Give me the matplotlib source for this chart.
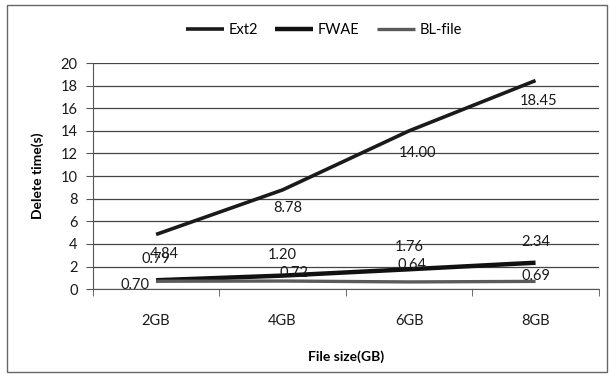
import matplotlib
matplotlib.use("Agg")
import matplotlib.pyplot as plt
from matplotlib.patches import Rectangle

plt.rcParams['font.family'] = ['Lato', 'DejaVu Sans']

sizes = ['2GB', '4GB', '6GB', '8GB']
ext2 = [4.84, 8.78, 14.00, 18.45]
fwae = [0.79, 1.20, 1.76, 2.34]
blfile = [0.70, 0.72, 0.64, 0.69]

# label offsets in points (dx, dy) for each series
ext2_off = [(6, -14), (4, -13), (6, -16), (2, -15)]
fwae_off = [(0, 15), (0, 15), (0, 16), (0, 15)]
bl_off = [(-15, -3), (8, 6), (2, 12), (0, 4)]

fig = plt.figure(figsize=(6.11, 3.82), dpi=100)
ax = fig.add_axes([0.152, 0.243, 0.828, 0.592])

x = list(range(len(sizes)))
ax.plot(x, ext2, color='#1a1a1a', lw=2.6, label='Ext2', solid_capstyle='butt')
ax.plot(x, fwae, color='#111111', lw=3.2, label='FWAE', solid_capstyle='butt')
ax.plot(x, blfile, color='#5a5a5a', lw=2.4, label='BL-file', solid_capstyle='butt')

for vals, offs in [(ext2, ext2_off), (fwae, fwae_off), (blfile, bl_off)]:
    for xi, v, (dx, dy) in zip(x, vals, offs):
        ax.annotate('%.2f' % v, (xi, v), xytext=(dx, dy), textcoords='offset points',
                    ha='center', va='center', fontsize=10.5, color='#1a1a1a')

ax.set_xlim(-0.5, 3.5)
ax.set_ylim(0, 20)
ax.set_yticks(range(0, 21, 2))
ax.set_xticks(x)
ax.set_xticklabels(sizes)
ax.set_xticks([-0.5, 0.5, 1.5, 2.5, 3.5], minor=True)
ax.tick_params(axis='x', which='major', length=0, pad=18, labelsize=10.5, labelcolor='#1a1a1a')
ax.tick_params(axis='x', which='minor', length=5, color='#555555')
ax.tick_params(axis='y', length=5, color='#555555', labelsize=10.5, pad=6, labelcolor='#1a1a1a')
ax.yaxis.grid(True, color='#444444', lw=0.9)
ax.set_axisbelow(True)
for s in ['top', 'right']:
    ax.spines[s].set_visible(False)
for s in ['left', 'bottom']:
    ax.spines[s].set_color('#555555')

ax.set_xlabel('File size(GB)', fontweight='bold', fontsize=10, labelpad=16)
ax.set_ylabel('Delete time(s)', fontweight='bold', fontsize=10, labelpad=12)

fig.legend(loc='center', bbox_to_anchor=(0.53, 0.922), ncol=3, frameon=False,
           fontsize=10.5, handlelength=2.6, handletextpad=0.3, columnspacing=1.2)

fig.patches.append(Rectangle((0.011, 0.026), 0.982, 0.96, transform=fig.transFigure,
                             fill=False, edgecolor='#666666', lw=1))

fig.savefig('out.png', dpi=100)
